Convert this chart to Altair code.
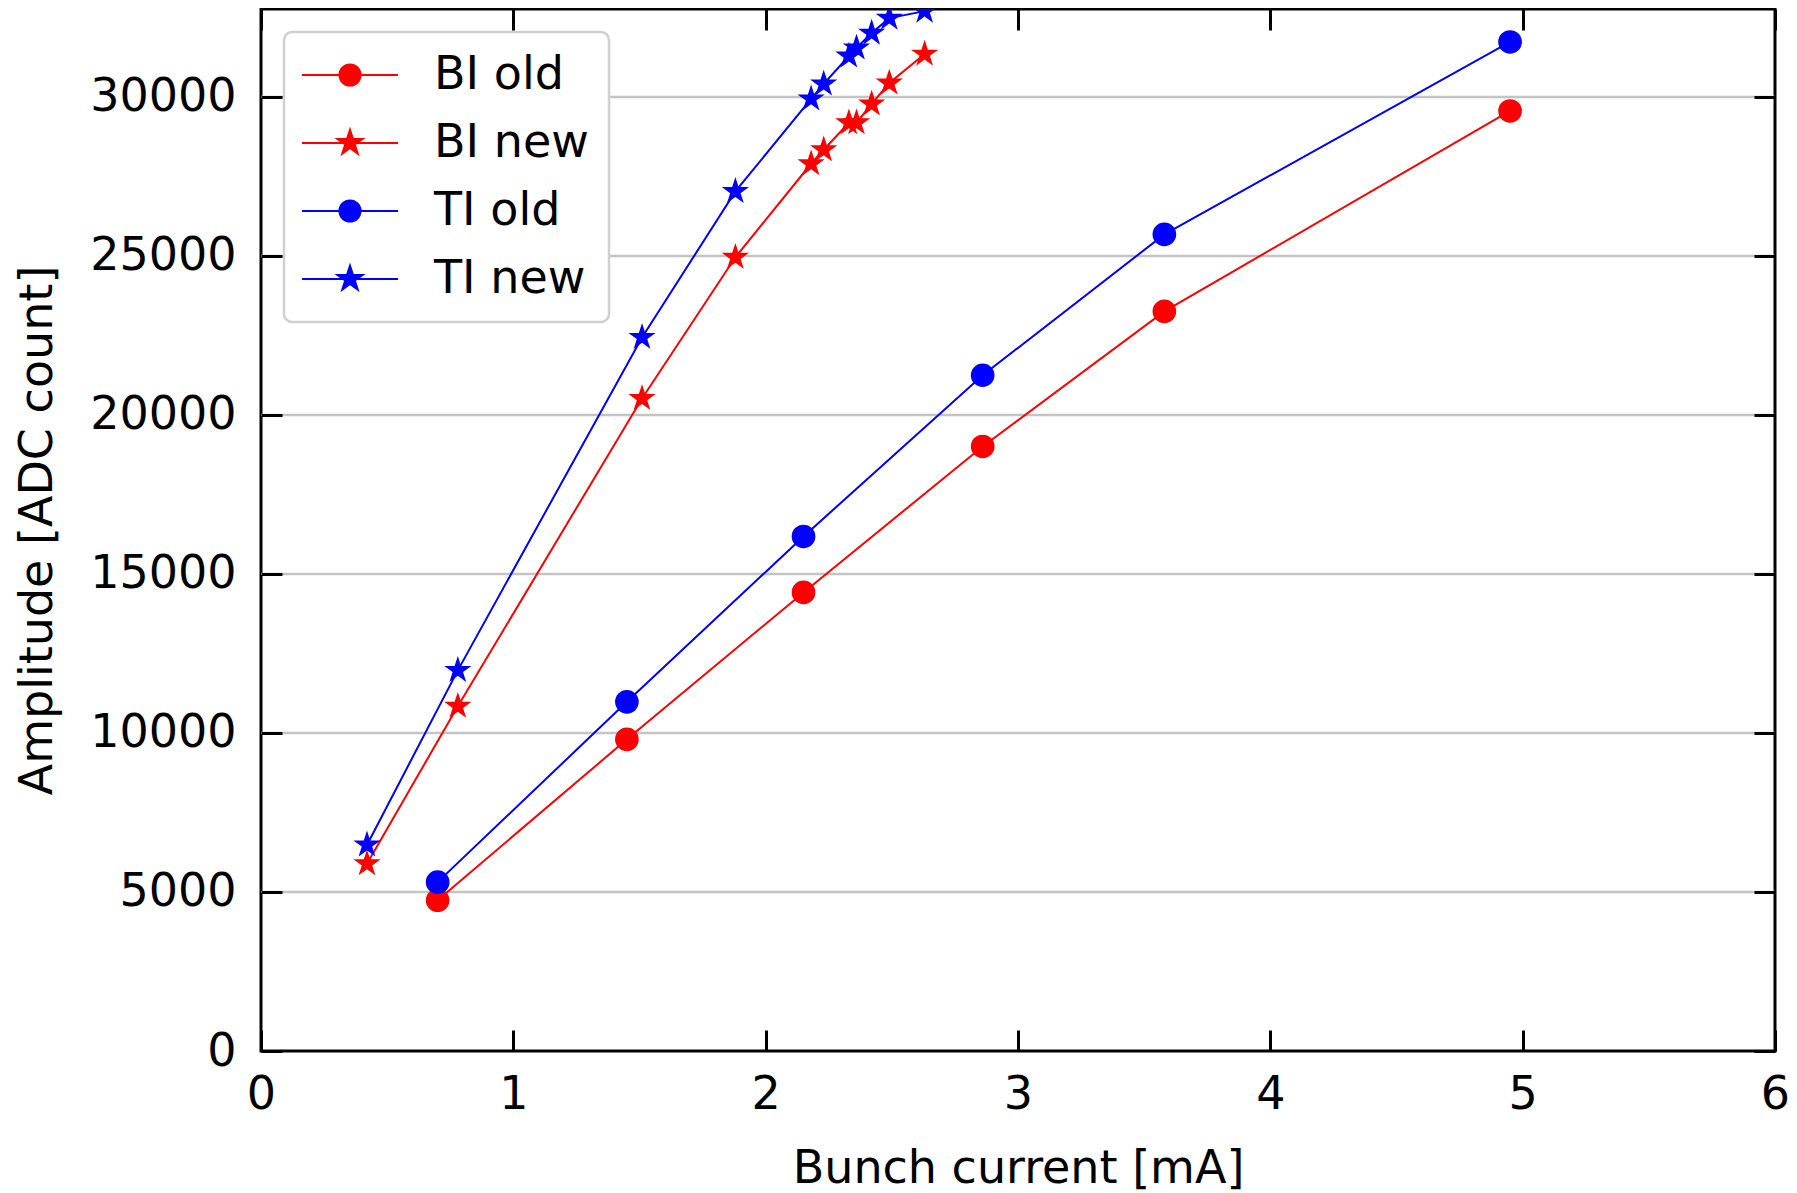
import math
import altair as alt
import pandas as pd

# ---------------- data ----------------
x_old = [0.70, 1.45, 2.15, 2.86, 3.58, 4.95]
bi_old = [4740, 9800, 14420, 19010, 23260, 29560]
ti_old = [5310, 10980, 16180, 21250, 25680, 31730]

x_new = [0.42, 0.78, 1.51, 1.88, 2.18, 2.23, 2.33, 2.36, 2.42, 2.49, 2.63]
bi_new = [5890, 10840, 20520, 24960, 27900, 28340, 29190, 29190, 29780, 30440, 31350]
ti_new = [6480, 11970, 22440, 27030, 29940, 30410, 31290, 31540, 32010, 32480, 32700]

series_names = ["BI old", "BI new", "TI old", "TI new"]
series_colors = ["#ff0000", "#ff0000", "#0000ff", "#0000ff"]
series_kind = ["circle", "star", "circle", "star"]
series_x = [x_old, x_new, x_old, x_new]
series_y = [bi_old, bi_new, ti_old, ti_new]

x_ticks = [0, 1, 2, 3, 4, 5, 6]
y_ticks = [0, 5000, 10000, 15000, 20000, 25000, 30000]
grid_values = [5000, 10000, 15000, 20000, 25000, 30000]

rows = []
for name, xs, ys in zip(series_names, series_x, series_y):
    for xv, yv in zip(xs, ys):
        rows.append({"series": name, "x": xv, "y": yv})
df = pd.DataFrame(rows)

# ---------------- marker shapes ----------------
def star_pts(R, r):
    pts = []
    for k in range(10):
        ang = math.radians(-90 + 36 * k)
        rad = R if k % 2 == 0 else r
        pts.append((rad * math.cos(ang), rad * math.sin(ang)))
    return "M" + "L".join(f"{px:.4f},{py:.4f}" for px, py in pts) + "Z"

def circle_path(r):
    return f"M{-r},0A{r},{r},0,1,0,{r},0A{r},{r},0,1,0,{-r},0Z"

STAR = star_pts(1.0, 0.382)
LINE_SEG = "M-4,0L4,0"
legend_paths = [
    LINE_SEG + circle_path(0.88),
    LINE_SEG + star_pts(1.1, 0.42),
    LINE_SEG + circle_path(0.88),
    LINE_SEG + star_pts(1.1, 0.42),
]

FONT = "DejaVu Sans"
TICK = 21

x_scale = alt.Scale(domain=[0, 6], nice=False, zero=False)
y_scale = alt.Scale(domain=[0, 32767], nice=False)

tick_props = dict(offset=-TICK, tickSize=TICK, tickWidth=3, tickColor="black", ticks=True,
                  domain=False, grid=False, zindex=3)

x_axis = alt.Axis(orient="bottom", values=x_ticks, format="d",
                  labelFontSize=46, labelFont=FONT, labelColor="black", labelPadding=21,
                  labelFlush=False, labelOverlap=False,
                  title="Bunch current [mA]", titleFontSize=46, titleFont=FONT,
                  titleFontWeight="normal", titleColor="black", titlePadding=29, **tick_props)
y_axis = alt.Axis(orient="left", values=y_ticks, format="d",
                  labelFontSize=46, labelFont=FONT, labelColor="black", labelPadding=25,
                  labelFlush=False, labelOverlap=False,
                  title="Amplitude [ADC count]", titleFontSize=46, titleFont=FONT,
                  titleFontWeight="normal", titleColor="black", titlePadding=28, **tick_props)
top_axis = alt.Axis(orient="top", values=x_ticks, labels=False, title=None, **tick_props)
right_axis = alt.Axis(orient="right", values=y_ticks, labels=False, title=None, **tick_props)

X = alt.X("x:Q", scale=x_scale, axis=x_axis)
Y = alt.Y("y:Q", scale=y_scale, axis=y_axis)

base = alt.Chart(df)

grid = alt.Chart(pd.DataFrame({"y": grid_values})).mark_rule(
    color="#c4c4c4", strokeWidth=2.5
).encode(y=Y)

layers = [grid]
for name, color, kind in zip(series_names, series_colors, series_kind):
    sub = base.transform_filter(alt.datum.series == name)
    layers.append(sub.mark_line(color=color, strokeWidth=2).encode(x=X, y=Y))
    if kind == "circle":
        pts = sub.mark_point(shape="circle", filled=True, opacity=1, color=color,
                             size=560, clip=True, strokeWidth=0)
    else:
        pts = sub.mark_point(shape=STAR, filled=True, opacity=1, color=color,
                             size=820, clip=True, strokeWidth=0)
    layers.append(pts.encode(x=X, y=Y))

leg = alt.Legend(
    title=None, orient="top-left", offset=23, padding=20, rowPadding=22,
    labelOffset=61, symbolOffset=23, labelFontSize=46, labelFont=FONT,
    labelColor="black", labelLimit=400, symbolSize=576, symbolStrokeWidth=2,
    symbolOpacity=1, fillColor="white", strokeColor="#d0d0d0", cornerRadius=8,
)

legend_layer = base.transform_filter("false").mark_point(filled=True, opacity=1).encode(
    fill=alt.Fill("series:N", scale=alt.Scale(domain=series_names, range=series_colors), legend=leg),
    stroke=alt.Stroke("series:N", scale=alt.Scale(domain=series_names, range=series_colors), legend=leg),
    shape=alt.Shape("series:N", scale=alt.Scale(domain=series_names, range=legend_paths), legend=leg),
)
layers.append(legend_layer)

inner = alt.layer(*layers)

ticks_layer = base.transform_filter("false").mark_point(opacity=0).encode(
    x=alt.X("x:Q", scale=x_scale, axis=top_axis),
    y=alt.Y("y:Q", scale=y_scale, axis=right_axis),
)

chart = (
    alt.layer(inner, ticks_layer)
    .resolve_axis(x="independent", y="independent")
    .properties(
        width=1514, height=1042,
        autosize=alt.AutoSizeParams(type="none"),
        padding={"left": 253, "top": 1, "right": 14, "bottom": 141},
    )
    .configure_view(stroke="black", strokeWidth=3)
    .configure_legend(strokeWidth=2.5)
)

chart.save("out.html", embed_options={"renderer": "svg", "actions": False})
